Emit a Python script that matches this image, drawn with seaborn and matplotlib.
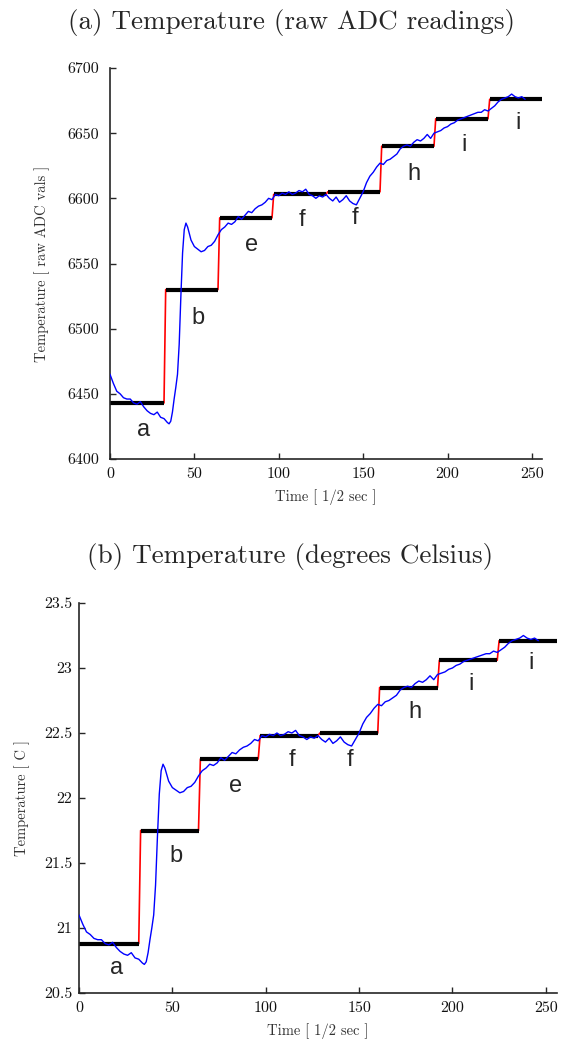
import matplotlib
matplotlib.use("Agg")
import matplotlib.pyplot as plt
import seaborn as sns
import pandas as pd

# ---------------- data ----------------
time_trace = [0, 2, 4, 6, 8, 10, 12, 14, 16, 18, 20, 22, 24, 26, 28, 30, 32, 34,
              35, 36, 37, 38, 39, 40, 41, 42, 43, 44, 45, 46,
              48, 50, 52, 54, 56, 58, 60, 62, 64, 66,
              68, 70, 72, 74, 76, 78, 80, 82, 84, 86,
              88, 90, 92, 94, 96, 98, 100, 102, 104, 106,
              108, 110, 112, 114, 116, 118, 120, 122, 124, 126,
              128, 130, 132, 134, 136, 138, 140, 142, 144, 146,
              148, 150, 152, 154, 156, 158, 160, 162, 164, 166,
              168, 170, 172, 174, 176, 178, 180, 182, 184, 186,
              188, 190, 192, 194, 196, 198, 200, 202, 204, 206,
              208, 210, 212, 214, 216, 218, 220, 222, 224, 226,
              228, 230, 232, 234, 236, 238, 240, 242, 244, 246]

raw_trace = [6465, 6458, 6452, 6450, 6447, 6446, 6446, 6443, 6442, 6444, 6440, 6437, 6435, 6434, 6436, 6432, 6431, 6428,
             6427, 6429, 6436, 6446, 6455, 6465, 6488, 6525, 6558, 6576, 6581, 6578,
             6568, 6563, 6561, 6559, 6560, 6563, 6564, 6567, 6572, 6576,
             6578, 6581, 6580, 6582, 6586, 6584, 6587, 6590, 6589, 6592,
             6594, 6595, 6597, 6600, 6599, 6603, 6602, 6604, 6603, 6605,
             6603, 6604, 6606, 6605, 6607, 6603, 6602, 6600, 6602, 6601,
             6603, 6600, 6598, 6601, 6597, 6599, 6602, 6598, 6596, 6595,
             6600, 6605, 6612, 6617, 6620, 6624, 6627, 6626, 6629, 6630,
             6632, 6634, 6638, 6640, 6641, 6640, 6643, 6645, 6644, 6646,
             6649, 6646, 6650, 6651, 6652, 6654, 6655, 6657, 6658, 6660,
             6661, 6662, 6663, 6664, 6665, 6666, 6666, 6668, 6667, 6669,
             6671, 6674, 6676, 6677, 6678, 6680, 6678, 6677, 6678, 6676]

celsius_trace = [21.10, 21.03, 20.97, 20.95, 20.92, 20.91, 20.91, 20.88, 20.87, 20.89, 20.85, 20.82, 20.80, 20.79, 20.81, 20.77, 20.76, 20.73,
                 20.72, 20.74, 20.81, 20.91, 21.00, 21.10, 21.33, 21.70, 22.03, 22.21, 22.26, 22.23,
                 22.13, 22.08, 22.06, 22.04, 22.05, 22.08, 22.09, 22.12, 22.17, 22.21,
                 22.23, 22.26, 22.25, 22.27, 22.31, 22.29, 22.32, 22.35, 22.34, 22.37,
                 22.39, 22.40, 22.42, 22.45, 22.44, 22.48, 22.47, 22.49, 22.48, 22.50,
                 22.48, 22.49, 22.51, 22.50, 22.52, 22.48, 22.47, 22.45, 22.47, 22.46,
                 22.48, 22.45, 22.43, 22.46, 22.42, 22.44, 22.47, 22.43, 22.41, 22.40,
                 22.45, 22.50, 22.57, 22.62, 22.65, 22.69, 22.72, 22.71, 22.74, 22.75,
                 22.77, 22.79, 22.83, 22.85, 22.86, 22.85, 22.88, 22.90, 22.89, 22.91,
                 22.94, 22.91, 22.95, 22.96, 22.97, 22.99, 23.00, 23.02, 23.03, 23.05,
                 23.06, 23.07, 23.08, 23.09, 23.10, 23.11, 23.11, 23.13, 23.12, 23.14,
                 23.16, 23.19, 23.21, 23.22, 23.23, 23.25, 23.23, 23.22, 23.23, 23.21]

step_start = [0, 33, 65, 97, 129, 161, 193, 225]
step_end = [32, 64, 96, 128, 160, 192, 224, 256]
raw_levels = [6443, 6530, 6585, 6603, 6605, 6640, 6661, 6676]
celsius_levels = [20.88, 21.75, 22.30, 22.48, 22.50, 22.85, 23.06, 23.21]

step_letters = ["a", "b", "e", "f", "f", "h", "i", "i"]
letter_x = [20, 52, 84, 114, 145, 180, 210, 242]
letter_y_raw = [6422, 6508, 6564, 6583, 6585, 6619, 6641, 6658]
letter_y_celsius = [20.69, 21.55, 22.09, 22.29, 22.29, 22.66, 22.88, 23.04]

raw_ticks = [6400, 6450, 6500, 6550, 6600, 6650, 6700]
celsius_ticks = [20.5, 21, 21.5, 22, 22.5, 23, 23.5]
celsius_ticklabels = ["20.5", "21", "21.5", "22", "22.5", "23", "23.5"]
time_ticks = [0, 50, 100, 150, 200, 250]

# ---------------- style ----------------
sns.set_style("ticks")
SERIF = ["cmr10", "DejaVu Serif"]
SANS = ["Liberation Sans", "DejaVu Sans"]
plt.rcParams["font.family"] = SERIF
plt.rcParams["axes.formatter.use_mathtext"] = True
plt.rcParams["axes.unicode_minus"] = False

fig = plt.figure(figsize=(5.61, 10.43), dpi=100)
fig.patch.set_facecolor("white")

ax_a = fig.add_axes([110 / 561, 1 - 459 / 1043, 432 / 561, 391 / 1043])
ax_b = fig.add_axes([79 / 561, 1 - 993 / 1043, 478 / 561, 390 / 1043])


def draw(ax, trace, levels, letter_y, yticks, yticklabels, ylim, ylabel, ypad, ylpad):
    red_x, red_y = [], []
    for s, e, l in zip(step_start, step_end, levels):
        red_x += [s, e]
        red_y += [l, l]
    sns.lineplot(x=red_x, y=red_y, sort=False, estimator=None, color="red",
                 linewidth=1.2, ax=ax, zorder=1)
    ax.hlines(levels, step_start, step_end, colors="black", linewidth=3.0, zorder=2)
    sns.lineplot(x=time_trace, y=trace, sort=False, estimator=None, color="blue",
                 linewidth=1.0, ax=ax, zorder=3)
    for lx, ly, t in zip(letter_x, letter_y, step_letters):
        ax.text(lx, ly, t, ha="center", va="center", fontsize=17, family=SANS)
    ax.set_xlim(0, 256)
    ax.set_ylim(*ylim)
    ax.set_xticks(time_ticks)
    ax.set_xticklabels([str(v) for v in time_ticks])
    ax.set_yticks(yticks)
    ax.set_yticklabels(yticklabels)
    for sp in ["top", "right"]:
        ax.spines[sp].set_visible(False)
    for sp in ["left", "bottom"]:
        ax.spines[sp].set_color("#262626")
        ax.spines[sp].set_linewidth(1.2)
    ax.tick_params(axis="both", direction="in", length=4, width=1, colors="#262626",
                   labelcolor="#111111", labelsize=11.5)
    ax.tick_params(axis="x", pad=6)
    ax.tick_params(axis="y", pad=ypad)
    ax.set_xlabel("Time [ 1/2 sec ]", fontsize=10.5, color="#333333", labelpad=6)
    ax.set_ylabel(ylabel, fontsize=10.5, color="#333333", labelpad=ylpad)
    ax.grid(False)


draw(ax_a, raw_trace, raw_levels, letter_y_raw, raw_ticks,
     [str(v) for v in raw_ticks], (6400, 6700), "Temperature [ raw ADC vals ]", 8, 12)
draw(ax_b, celsius_trace, celsius_levels, letter_y_celsius, celsius_ticks,
     celsius_ticklabels, (20.5, 23.5), "Temperature [ C ]", 5, 10)

fig.text(292 / 561, 1 - 22 / 1043, "(a) Temperature (raw ADC readings)",
         ha="center", va="center", fontsize=19.5)
fig.text(290 / 561, 1 - 556 / 1043, "(b) Temperature (degrees Celsius)",
         ha="center", va="center", fontsize=19.5)

fig.savefig("out.png", dpi=100)
